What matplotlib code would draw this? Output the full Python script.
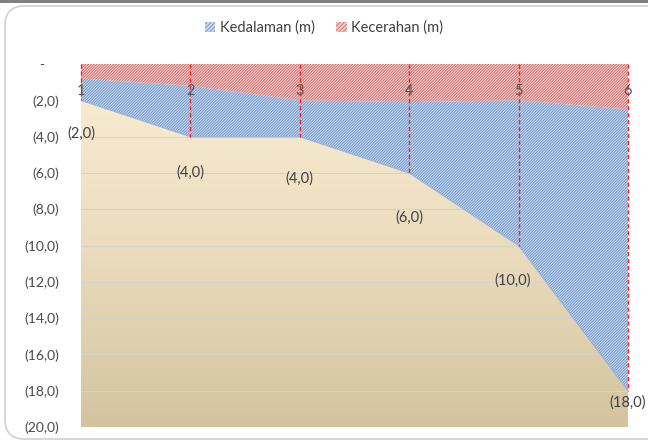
import numpy as np
import matplotlib.pyplot as plt
from matplotlib.patches import Patch, FancyBboxPatch, Rectangle
import matplotlib as mpl

plt.rcParams['font.family'] = ['Lato', 'DejaVu Sans']
mpl.rcParams['hatch.linewidth'] = 0.7

# Station data
stations = ['1', '2', '3', '4', '5', '6']
depth = [2.0, 4.0, 4.0, 6.0, 10.0, 18.0]        # Kedalaman (m)
clarity = [0.8, 1.2, 2.0, 2.1, 2.0, 2.5]        # Kecerahan (m)
y_ticks = [0, -2, -4, -6, -8, -10, -12, -14, -16, -18, -20]

# label offsets (pixels, x / y) for the depth value labels
label_dx = [0, 0, 0, 0, -6, 0]
label_dy = [-33, -36, -42, -45, -35, -12]

W, H = 648, 443
fig = plt.figure(figsize=(W / 100, H / 100), dpi=100)
fig.patch.set_facecolor('white')

# outer chart frame
fig.patches.append(Rectangle((0, (H - 3) / H), 1, 3 / H, transform=fig.transFigure,
                             facecolor='#808080', edgecolor='none', zorder=-2))
fig.patches.append(FancyBboxPatch((5 / W, 4 / H), (W + 20) / W, (H - 10) / H,
                                  boxstyle='round,pad=0,rounding_size=0.03',
                                  transform=fig.transFigure, facecolor='white',
                                  edgecolor='#d0d0d0', linewidth=1.2, zorder=-1,
                                  mutation_aspect=W / H))

ax = fig.add_axes([81 / W, 16 / H, (628 - 81) / W, (427 - 64) / H])
ax.patch.set_alpha(0)
x = np.arange(len(stations))
ax.set_xlim(x[0], x[-1])
ax.set_ylim(-20, 0)

# gradient plot-area background
grad = np.linspace(0, 1, 256).reshape(-1, 1) ** 1.3
top = np.array(mpl.colors.to_rgb('#faecd2'))
bot = np.array(mpl.colors.to_rgb('#d3c49e'))
img = top + (bot - top) * grad
img = img.reshape(256, 1, 3)
ax.imshow(img, extent=[x[0], x[-1], -20, 0], aspect='auto', zorder=0, origin='upper')

for yt in y_ticks[1:-1]:
    ax.axhline(yt, color='#d6d3cc', linewidth=0.8, zorder=1)

neg_depth = -np.array(depth)
neg_clar = -np.array(clarity)

ax.fill_between(x, neg_clar, neg_depth, facecolor='#cddbee', edgecolor='#7098cd',
                hatch='/' * 12, linewidth=0, zorder=2)
ax.plot(x, neg_depth, color='#9db6dc', linewidth=1, zorder=2.5)
ax.fill_between(x, 0, neg_clar, facecolor='#f2d0cf', edgecolor='#d07270',
                hatch='/' * 12, linewidth=0, zorder=2)

for xi, d in zip(x, neg_depth):
    ax.plot([xi, xi], [0, d], color='#ff2020', linestyle=(0, (3, 2)), linewidth=1,
            zorder=3, clip_on=False)

# category labels inside the plot area
for xi, s in zip(x, stations):
    ax.text(xi, -1.5, s, ha='center', va='center', fontsize=10.5, color='#595959', zorder=4)

# value labels
for xi, d, dx, dy in zip(x, depth, label_dx, label_dy):
    ax.annotate('({:.1f})'.format(d).replace('.', ','), (xi, -d),
                xytext=(dx, dy), textcoords='offset pixels', ha='center', va='center',
                fontsize=10.5, color='#404040', zorder=5, annotation_clip=False)

def fmt(v):
    if v == 0:
        return '-    '
    return '({:.1f})'.format(abs(v)).replace('.', ',')

ax.set_yticks(y_ticks)
ax.set_yticklabels([fmt(v) for v in y_ticks], fontsize=10, color='#4a4a4a')
ax.tick_params(axis='y', length=0, pad=16)
ax.set_xticks([])
for sp in ax.spines.values():
    sp.set_visible(False)

handles = [Patch(facecolor='#cddbee', edgecolor='#7098cd', hatch='/' * 8, linewidth=0,
                 label='Kedalaman (m)'),
           Patch(facecolor='#f2d0cf', edgecolor='#d07270', hatch='/' * 8, linewidth=0,
                 label='Kecerahan (m)')]
fig.legend(handles=handles, loc='center', bbox_to_anchor=(0.5, 1 - 28 / H), ncol=2,
           frameon=False, fontsize=10.5, handlelength=0.7, handleheight=0.7,
           handletextpad=0.3, columnspacing=1.5, labelcolor='#404040')

fig.savefig('out.png', dpi=100)
